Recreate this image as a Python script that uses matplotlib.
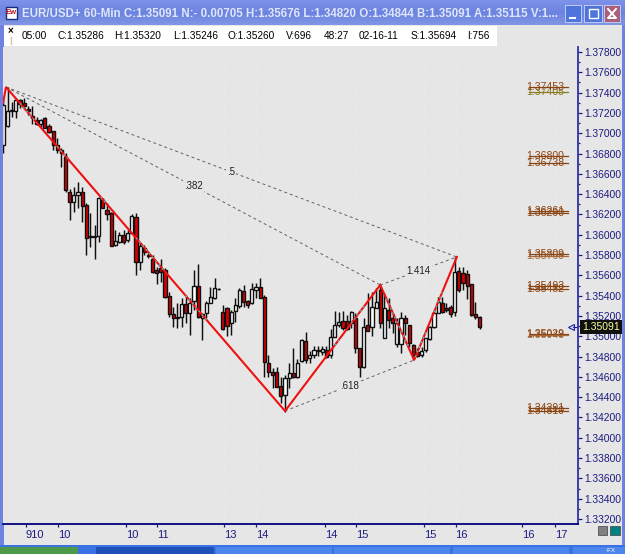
import numpy as np
import matplotlib
matplotlib.use('Agg')
import matplotlib.pyplot as plt
from matplotlib.patches import Rectangle

plt.rcParams['font.family'] = ['Liberation Sans', 'DejaVu Sans']

# hourly EUR/USD bars
highs = [1.37327, 1.37455, 1.37307, 1.37347, 1.37337, 1.37347, 1.37268, 1.37268, 1.37160, 1.37140,
         1.37160, 1.37091, 1.37022, 1.36953, 1.36854, 1.36805, 1.36450, 1.36470, 1.36519, 1.36470,
         1.36312, 1.36214, 1.36096, 1.36372, 1.36362, 1.36312, 1.36224, 1.36047, 1.36027, 1.36047,
         1.36047, 1.36204, 1.36214, 1.35929, 1.35899, 1.35820, 1.35800, 1.35682, 1.35761, 1.35672,
         1.35436, 1.35288, 1.35328, 1.35377, 1.35407, 1.35377, 1.35653, 1.35712, 1.35229, 1.35347,
         1.35485, 1.35574, 1.35475, 1.35308, 1.35288, 1.35259, 1.35377, 1.35475, 1.35505, 1.35357,
         1.35524, 1.35524, 1.35574, 1.35407, 1.34816, 1.34687, 1.34697, 1.34599, 1.34618, 1.34737,
         1.34884, 1.34776, 1.34973, 1.35042, 1.34855, 1.34904, 1.34904, 1.34904, 1.34904, 1.35072,
         1.35249, 1.35239, 1.35249, 1.35210, 1.35249, 1.35229, 1.34884, 1.35180, 1.35426, 1.35436,
         1.35475, 1.35505, 1.35426, 1.35377, 1.35229, 1.35180, 1.35239, 1.35210, 1.35111, 1.34924,
         1.34884, 1.34894, 1.34983, 1.35101, 1.35259, 1.35387, 1.35387, 1.35328, 1.35308, 1.35781,
         1.35682, 1.35682, 1.35653, 1.35515, 1.35337, 1.35200]
lows = [1.36805, 1.37061, 1.37160, 1.37150, 1.37248, 1.37248, 1.37179, 1.37091, 1.37081, 1.37061,
        1.37051, 1.37002, 1.36835, 1.36805, 1.36667, 1.36421, 1.36145, 1.36224, 1.36263, 1.36125,
        1.35800, 1.35879, 1.35761, 1.35929, 1.36263, 1.36145, 1.35889, 1.35889, 1.35919, 1.35909,
        1.35929, 1.36017, 1.35604, 1.35653, 1.35800, 1.35771, 1.35623, 1.35515, 1.35534, 1.35377,
        1.35190, 1.35091, 1.35081, 1.35091, 1.35130, 1.35012, 1.35259, 1.35180, 1.34963, 1.35180,
        1.35328, 1.35367, 1.35456, 1.35062, 1.35002, 1.35012, 1.35140, 1.35278, 1.35288, 1.35278,
        1.35318, 1.35377, 1.35377, 1.34599, 1.34599, 1.34490, 1.34500, 1.34343, 1.34254, 1.34490,
        1.34589, 1.34589, 1.34746, 1.34737, 1.34737, 1.34786, 1.34806, 1.34816, 1.34786, 1.34786,
        1.34993, 1.35091, 1.35062, 1.35062, 1.35081, 1.34835, 1.34599, 1.34687, 1.35052, 1.35003,
        1.35278, 1.35081, 1.34983, 1.35081, 1.35032, 1.34894, 1.34835, 1.35012, 1.34894, 1.34766,
        1.34796, 1.34796, 1.34845, 1.34963, 1.35081, 1.35229, 1.35229, 1.35239, 1.35190, 1.35200,
        1.35436, 1.35456, 1.35367, 1.35200, 1.35170, 1.35072]
opens = [1.36884, 1.37071, 1.37219, 1.37219, 1.37327, 1.37297, 1.37238, 1.37169, 1.37130, 1.37091,
         1.37150, 1.37071, 1.37022, 1.36884, 1.36835, 1.36766, 1.36421, 1.36322, 1.36391, 1.36421,
         1.36293, 1.35987, 1.35987, 1.35987, 1.36342, 1.36244, 1.36214, 1.35899, 1.35929, 1.35997,
         1.35948, 1.36017, 1.36175, 1.35731, 1.35870, 1.35800, 1.35761, 1.35653, 1.35672, 1.35653,
         1.35397, 1.35220, 1.35190, 1.35190, 1.35318, 1.35229, 1.35347, 1.35495, 1.35180, 1.35229,
         1.35328, 1.35377, 1.35465, 1.35239, 1.35278, 1.35130, 1.35249, 1.35298, 1.35446, 1.35347,
         1.35328, 1.35456, 1.35485, 1.35387, 1.34737, 1.34648, 1.34648, 1.34510, 1.34421, 1.34589,
         1.34638, 1.34599, 1.34756, 1.34953, 1.34786, 1.34816, 1.34855, 1.34845, 1.34865, 1.34816,
         1.34993, 1.35111, 1.35150, 1.35150, 1.35130, 1.35180, 1.34884, 1.34697, 1.35111, 1.35091,
         1.35278, 1.35456, 1.34983, 1.35259, 1.35180, 1.34924, 1.34924, 1.35180, 1.35111, 1.34914,
         1.34845, 1.34816, 1.34865, 1.34973, 1.35091, 1.35229, 1.35328, 1.35278, 1.35288, 1.35239,
         1.35643, 1.35623, 1.35613, 1.35515, 1.35220, 1.35190]
closes = [1.37278, 1.37219, 1.37229, 1.37327, 1.37288, 1.37268, 1.37219, 1.37150, 1.37091, 1.37130,
          1.37051, 1.37012, 1.36884, 1.36835, 1.36805, 1.36441, 1.36322, 1.36391, 1.36421, 1.36283,
          1.35968, 1.35982, 1.35977, 1.36362, 1.36263, 1.36204, 1.35889, 1.35938, 1.35997, 1.35929,
          1.36017, 1.36184, 1.35731, 1.35889, 1.35830, 1.35791, 1.35633, 1.35623, 1.35633, 1.35387,
          1.35220, 1.35180, 1.35180, 1.35318, 1.35229, 1.35328, 1.35495, 1.35190, 1.35220, 1.35328,
          1.35387, 1.35475, 1.35465, 1.35072, 1.35101, 1.35239, 1.35308, 1.35456, 1.35337, 1.35308,
          1.35465, 1.35485, 1.35377, 1.34746, 1.34648, 1.34618, 1.34500, 1.34411, 1.34589, 1.34638,
          1.34599, 1.34737, 1.34963, 1.34766, 1.34816, 1.34865, 1.34865, 1.34875, 1.34796, 1.34993,
          1.35111, 1.35140, 1.35081, 1.35072, 1.35239, 1.34884, 1.34697, 1.35091, 1.35052, 1.35288,
          1.35337, 1.35130, 1.35278, 1.35160, 1.35130, 1.35130, 1.35180, 1.35130, 1.34933, 1.34816,
          1.34806, 1.34855, 1.34983, 1.35091, 1.35229, 1.35337, 1.35239, 1.35259, 1.35220, 1.35633,
          1.35456, 1.35524, 1.35495, 1.35210, 1.35190, 1.35091]

# zigzag pivots, bar position and price
pivot_bars = [-0.1, 0.6, 68, 91, 99.2, 109.5]
pivot_prices = [1.37298, 1.37455, 1.34264, 1.35505, 1.34766, 1.35781]
# ratio lines between pivots: from, to, label
ratio_from = [1, 1, 2, 3]
ratio_to = [3, 5, 4, 5]
ratio_labels = ['.382', '.5', '.618', '1.414']
# stretches of the zigzag with the cyan overlay
cyan_from = [4, 13, 23.5, 32, 44, 80, 84, 92.5, 99.5, 104]
cyan_to = [8, 15.5, 25, 39, 49, 81, 87.5, 98, 102, 106]

# levels printed on top of each other at the right
level_prices = [1.37445, 1.36766, 1.36224, 1.35801, 1.35485, 1.35021, 1.34283]
level_other = ['1.37405', '1.36738', '1.36290', '1.35769', '1.35432', '1.35048', '1.34310']
level_tops = ['1.37453', '1.36800', '1.36261', '1.35809', '1.35493', '1.35029', '1.34291']
level_gaps = [0.00040, 0.00060, 0.00012, 0.00008, 0.00016, 0.00008, 0.00016]
level_colors = ['#8a7a20', '#8b4513', '#8b4513', '#a5683a', '#8b4513', '#a5683a', '#8b4513']

xtick_bars = [5.4, 13.2, 29.5, 37, 53.3, 61, 77.7, 85.2, 101.6, 109.2, 125.2, 133.2]
xtick_labels = ['910', '10', '10', '11', '13', '14', '14', '15', '15', '16', '16', '17']

info_x = [22, 58, 114, 173, 228, 286, 324, 359, 411, 467]
info_labels = ['05:00', 'C:1.35286', 'H:1.35320', 'L:1.35246', 'O:1.35260', 'V:696',
               '48:27', '02-16-11', 'S:1.35694', 'I:756']
title = 'EUR/USD+ 60-Min C:1.35091 N:- 0.00705 H:1.35676 L:1.34820 O:1.34844 B:1.35091 A:1.35115 V:1...'

BG = '#e6e6e6'
NAVY = '#1c1c80'
W, H = 625, 554

fig = plt.figure(figsize=(W / 100, H / 100), dpi=100)

# window frame, drawn in pixel units
frame = fig.add_axes([0, 0, 1, 1], zorder=0)
frame.axis('off')
frame.add_patch(Rectangle((0, 0), W, H, fc=BG, ec='none'))
grad = np.linspace(0, 1, 25).reshape(-1, 1)
frame.imshow(grad, extent=(0, W, 25, 0), aspect='auto', cmap=matplotlib.colors.LinearSegmentedColormap.from_list(
    'bar', ['#7d93ea', '#6b83e0', '#8095e4']), zorder=1)
frame.add_patch(Rectangle((0, 25), 4, 520, fc='#6f82e2', ec='none', zorder=1))
frame.add_patch(Rectangle((622, 25), 3, 520, fc='#6f82e2', ec='none', zorder=1))
frame.add_patch(Rectangle((4, 26), 493, 20, fc='white', ec='none', zorder=1))
frame.add_patch(Rectangle((0, 545), W, 9, fc='#3a72e4', ec='none', zorder=1))
frame.add_patch(Rectangle((0, 547), 78, 7, fc='#4f9a4a', ec='none', zorder=2))
frame.add_patch(Rectangle((96, 547), 118, 7, fc='#1f50b8', ec='none', zorder=2))
for left in [216, 334, 453, 573]:
    frame.add_patch(Rectangle((left, 547), 116, 7, fc='#4c86ec', ec='none', zorder=2))
# title buttons
frame.add_patch(Rectangle((565, 5), 16, 17, fc='#4f74dc', ec='#c0ccf4', lw=0.7, zorder=2))
frame.add_patch(Rectangle((584, 5), 18, 17, fc='#4f74dc', ec='#c0ccf4', lw=0.7, zorder=2))
frame.add_patch(Rectangle((604, 5), 16, 17, fc='#a8607c', ec='#c0ccf4', lw=0.7, zorder=2))
frame.plot([570, 575], [18, 18], color='white', lw=1.5, zorder=3)
frame.add_patch(Rectangle((588.5, 9), 9, 9, fc='none', ec='white', lw=1, zorder=3))
frame.plot([608, 616, 608, 616], [9, 18, 18, 9], color='white', lw=1.4, zorder=3)
# window icon
frame.add_patch(Rectangle((6, 7), 11, 12, fc='white', ec='#1c2c80', lw=1, zorder=2))
frame.text(11.5, 13, 'Ew', color='#c01020', fontsize=5.5, fontweight='bold', ha='center', va='center', zorder=3)
frame.text(22, 14, title, color='#dfe6fb', fontsize=8.3, fontweight='bold', va='center', zorder=3)
frame.text(10, 31, '×', color='black', fontsize=7, fontweight='bold', ha='center', va='center', zorder=3)
frame.plot([10.5, 10.5], [37, 44], color='#c8c8b0', lw=1, zorder=3)
for x, label in zip(info_x, info_labels):
    frame.text(x, 36, label, color='black', fontsize=7.3, va='center', zorder=3)
# chart scroll buttons
frame.add_patch(Rectangle((598, 526), 9, 9, fc='#808080', ec='#404040', lw=0.5, zorder=2))
frame.add_patch(Rectangle((610, 526), 10, 9, fc='#008080', ec='#404040', lw=0.5, zorder=2))
frame.text(611, 551, '-FX', color='white', fontsize=4.5, ha='center', va='center', zorder=3)
frame.set_xlim(0, W)
frame.set_ylim(H, 0)

# price panel
ax = fig.add_axes([3 / W, 1 - 524 / H, 575 / W, 477 / H], zorder=1)
ax.set_facecolor(BG)
ax.set_xlim(-0.12, 138.77)
ax.set_ylim(1.33151, 1.37849)
for side in ['top', 'left']:
    ax.spines[side].set_visible(False)
ax.spines['right'].set_color('#3030a8')
ax.spines['right'].set_linewidth(1.3)
ax.spines['bottom'].set_color('#000080')
ax.spines['bottom'].set_linewidth(1.3)

ax.yaxis.tick_right()
yticks = np.arange(1.332, 1.3781, 0.002)
ax.set_yticks(yticks)
ax.set_yticklabels(['%.5f' % v for v in yticks])
ax.set_yticks(np.arange(1.333, 1.3781, 0.002), minor=True)
ax.tick_params(axis='y', which='major', length=3, width=0.9, color=NAVY, labelcolor=NAVY, labelsize=7.4, pad=1.5)
ax.tick_params(axis='y', which='minor', length=1.5, width=0.9, color=NAVY)
ax.set_xticks(xtick_bars)
ax.set_xticklabels(xtick_labels, ha='left')
ax.tick_params(axis='x', length=2.5, width=0.9, color=NAVY, labelcolor=NAVY, labelsize=8, pad=2)
ax.grid(axis='x', color='#efefef', lw=0.6, ls=':')
ax.set_axisbelow(True)

# candles
bars = np.arange(len(opens))
o = np.array(opens)
c = np.array(closes)
ax.vlines(bars, lows, highs, color='#101010', lw=1.05, zorder=2)
ax.bar(bars, c - o, bottom=o, width=0.76, color=np.where(c >= o, 'white', '#d80000'),
       edgecolor='#101010', linewidth=1.0, zorder=3)

# ratio lines and their labels
for a, b, label in zip(ratio_from, ratio_to, ratio_labels):
    xs = [pivot_bars[a], pivot_bars[b]]
    ys = [pivot_prices[a], pivot_prices[b]]
    ax.plot(xs, ys, color='#606060', lw=0.7, ls=(0, (3, 3)), zorder=4)
    ax.text(np.mean(xs), np.mean(ys), label, color='#202020', fontsize=7, ha='center', va='center', zorder=4,
            bbox=dict(fc=BG, ec='none', pad=0.8))

# zigzag
ax.plot(pivot_bars, pivot_prices, color='#f01010', lw=1.5, zorder=5, solid_joinstyle='miter')
for start, stop in zip(cyan_from, cyan_to):
    xs = np.array([start, stop])
    ax.plot(xs, np.interp(xs, pivot_bars, pivot_prices), color='#30e0e0', lw=0.8, ls=(0, (1.5, 3)), zorder=6)

# stacked level labels, two strings and their strike lines
for price, other, top, gap, colour in zip(level_prices, level_other, level_tops, level_gaps, level_colors):
    ax.text(130.8, price - gap, other, color=colour, fontsize=7.6, ha='center', va='center', zorder=3)
    ax.text(130.8, price + 0.00006, top, color='#8b4513', fontsize=7.6, ha='center', va='center', zorder=3)
    ax.plot([126.9, 136.4], [price + 0.00006, price + 0.00006], color='#8b4513', lw=0.9, zorder=3)
    ax.plot([126.9, 136.4], [price - gap, price - gap], color=colour, lw=0.9, zorder=3)

# last price marker and tag
ax.plot([137], [closes[-1]], marker='<', ms=4, mfc=BG, mec='#2020a0', mew=0.8, zorder=4, clip_on=False)
ax.plot([137.5, 138.7], [closes[-1], closes[-1]], color='#2020a0', lw=0.8, zorder=4)
ax.text(1.0065, closes[-1], '%.5f' % closes[-1], transform=ax.get_yaxis_transform(), color='#ffff99', fontsize=7.5,
        ha='left', va='center', zorder=7, clip_on=False, bbox=dict(fc='#101010', ec='none', pad=1.6))

fig.savefig('out.png', dpi=100)
